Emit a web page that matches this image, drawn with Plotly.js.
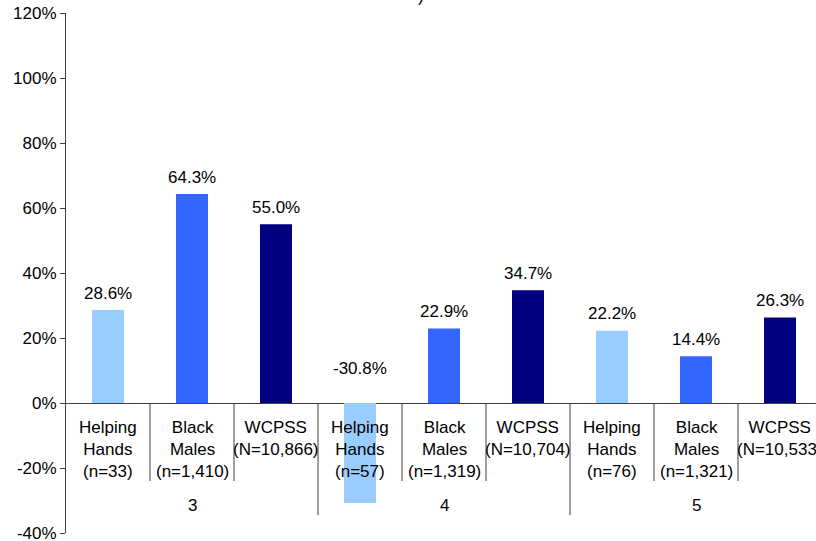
<!DOCTYPE html>
<html>
<head>
<meta charset="utf-8">
<script src="https://cdn.plot.ly/plotly-3.0.1.min.js"></script>
<style>html,body{margin:0;padding:0;background:#fff;}#chart{width:816px;height:541px;}</style>
</head>
<body>
<div id="chart"></div>
<script>
const grades = ['3', '4', '5'];
const groupNames = ['Helping Hands', 'Black Males', 'WCPSS'];
const categoryLabels = [
  'Helping<br>Hands<br>(n=33)', 'Black<br>Males<br>(n=1,410)', 'WCPSS<br>(N=10,866)',
  'Helping<br>Hands<br>(n=57)', 'Black<br>Males<br>(n=1,319)', 'WCPSS<br>(N=10,704)',
  'Helping<br>Hands<br>(n=76)', 'Black<br>Males<br>(n=1,321)', 'WCPSS<br>(N=10,533)'
];
const values = [28.6, 64.3, 55.0, -30.8, 22.9, 34.7, 22.2, 14.4, 26.3];
const yTickVals = [-40, -20, 0, 20, 40, 60, 80, 100, 120];
const yTickText = ['-40%', '-20%', '0%', '20%', '40%', '60%', '80%', '100%', '120%'];
const groupColors = ['#99CCFF', '#3366FF', '#000080'];

const FONT = 'Liberation Sans, Arial, sans-serif';
const n = values.length;
const xs = values.map((v, i) => i);
const colors = values.map((v, i) => groupColors[i % groupNames.length]);

const trace = {
  type: 'bar',
  x: xs,
  y: values,
  width: 0.381,
  marker: {color: colors, line: {width: 0}},
  hoverinfo: 'skip'
};

const annotations = [];
values.forEach((v, i) => {
  annotations.push({
    x: i, y: Math.max(v, 0), xref: 'x', yref: 'y',
    text: v.toFixed(1) + '%', showarrow: false,
    yanchor: 'middle', yshift: v >= 0 ? 17 : 35,
    font: {family: FONT, size: 17, color: '#000'}
  });
  annotations.push({
    x: i, y: 0, xref: 'x', yref: 'y',
    text: categoryLabels[i], showarrow: false,
    yanchor: 'top', yshift: -13, align: 'center',
    font: {family: FONT, size: 17, color: '#000'}
  });
});
grades.forEach((g, k) => {
  annotations.push({
    x: k * 3 + 1, y: 0, xref: 'x', yref: 'y',
    text: g, showarrow: false, yanchor: 'middle', yshift: -102,
    font: {family: FONT, size: 17, color: '#000'}
  });
});
annotations.push({
  x: (421 - 66) / 750, y: 1, xref: 'paper', yref: 'paper',
  text: ')', showarrow: false, yanchor: 'bottom', yshift: 5,
  font: {family: FONT, size: 17, color: '#000'}
});

const shapes = [];
for (let i = 1; i <= n; i++) {
  const isGroupEdge = i % 3 === 0;
  shapes.push({
    type: 'line', xref: 'x', yref: 'y',
    x0: i - 0.5, x1: i - 0.5, y0: 0, y1: isGroupEdge ? -34.5 : -24,
    line: {color: '#404040', width: 1}
  });
}

const layout = {
  width: 816, height: 541,
  margin: {l: 66, r: 0, t: 13, b: 8, pad: 0},
  paper_bgcolor: '#fff', plot_bgcolor: '#fff',
  showlegend: false,
  font: {family: FONT, size: 17, color: '#000'},
  xaxis: {
    range: [-0.5, -0.5 + 750 / 84],
    showticklabels: false, showgrid: false, zeroline: false,
    showline: false, ticks: '', fixedrange: true
  },
  yaxis: {
    range: [-40, 120], tickmode: 'array', tickvals: yTickVals, ticktext: yTickText,
    ticks: 'outside', ticklen: 5, tickcolor: '#404040',
    ticklabeloverflow: 'allow',
    showline: true, linecolor: '#404040', linewidth: 1,
    showgrid: false, zeroline: true, zerolinecolor: '#404040', zerolinewidth: 1,
    tickfont: {family: FONT, size: 17, color: '#000'},
    fixedrange: true
  },
  annotations: annotations,
  shapes: shapes
};

Plotly.newPlot('chart', [trace], layout, {displayModeBar: false, staticPlot: true});
</script>
</body>
</html>
